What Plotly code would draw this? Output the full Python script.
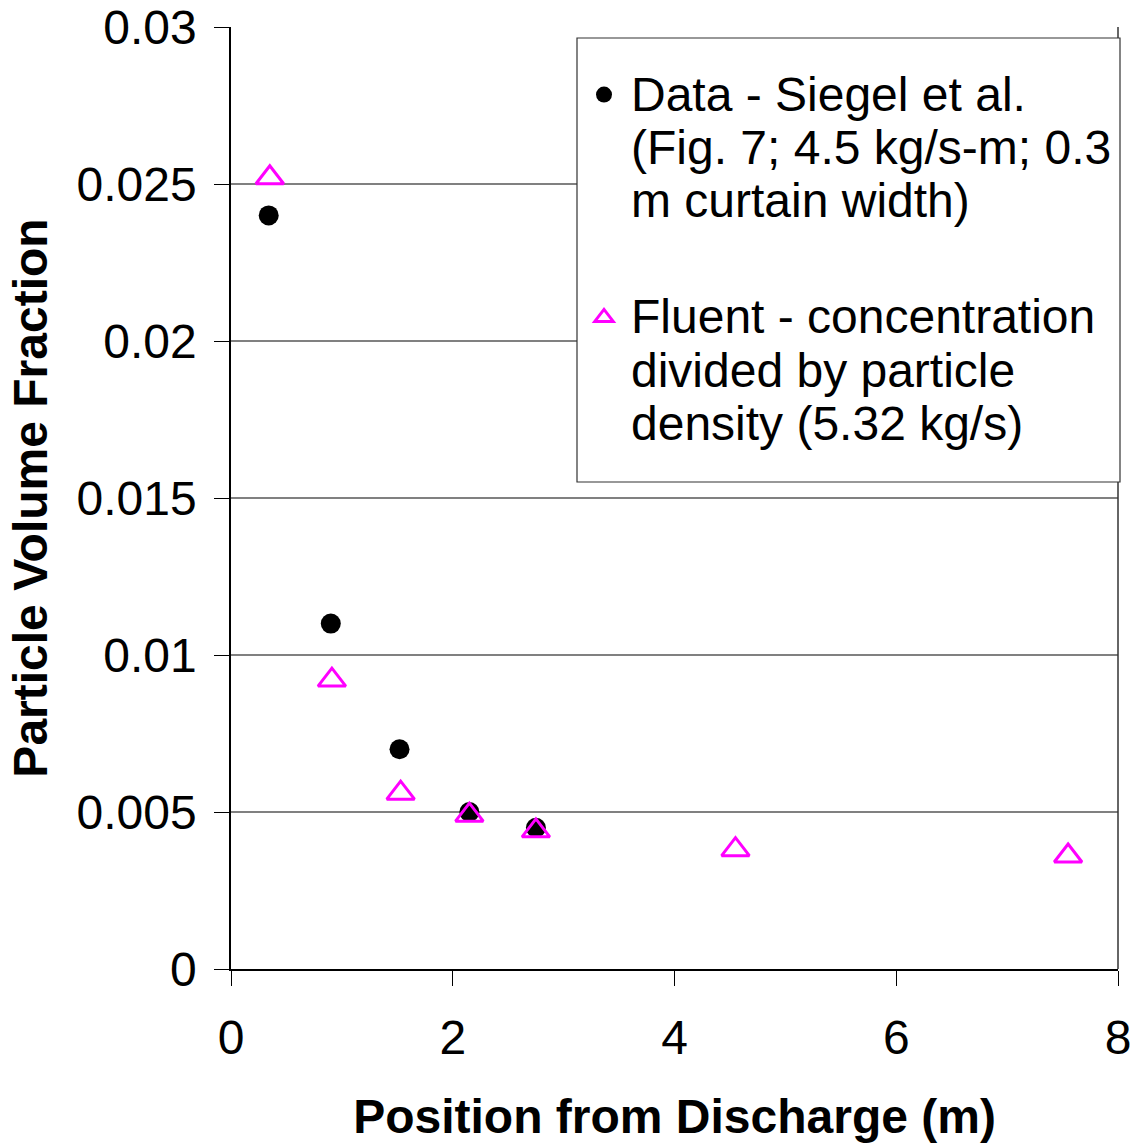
import plotly.graph_objects as go

# Data - Siegel et al. (black circles)
data_x = [0.34, 0.90, 1.52, 2.15, 2.75]
data_y = [0.0240, 0.0110, 0.0070, 0.0050, 0.0045]

# Fluent predictions (magenta open triangles)
fluent_x = [0.35, 0.91, 1.53, 2.15, 2.75, 4.55, 7.55]
fluent_y = [0.0252, 0.0092, 0.0056, 0.0049, 0.0044, 0.0038, 0.0036]

x_ticks = [0, 2, 4, 6, 8]
y_ticks = [0, 0.005, 0.01, 0.015, 0.02, 0.025, 0.03]
y_tick_text = ["0", "0.005", "0.01", "0.015", "0.02", "0.025", "0.03"]

data_name_lines = ["Data - Siegel et al.", "(Fig. 7; 4.5 kg/s-m; 0.3", "m curtain width)"]
fluent_name_lines = ["Fluent - concentration", "divided by particle", "density (5.32 kg/s)"]

FONT = "Liberation Sans, Arial, sans-serif"

# plot-area geometry in pixels (layout only)
W, H = 1130, 1143
ML, MR, MT, MB = 231, 12, 27, 174
PW, PH = W - ML - MR, H - MT - MB


def px_x(p):
    return (p - ML) / PW


def px_y(p):
    return (H - MB - p) / PH


def legend_label(lines):
    return "<br>".join(f"<span style='font-size:48px'>{t}</span>" for t in lines)


fig = go.Figure()
fig.add_trace(go.Scatter(
    x=data_x, y=data_y, mode="markers",
    name=legend_label(data_name_lines),
    marker=dict(symbol="circle", size=20, color="black"),
    legendgroup="a",
))
fig.add_trace(go.Scatter(
    x=fluent_x, y=fluent_y, mode="markers",
    name=legend_label(fluent_name_lines),
    marker=dict(symbol="triangle-up-open", size=24, color="#FF00FF",
                line=dict(width=3, color="#FF00FF")),
    legendgroup="b",
))

fig.update_layout(
    width=W, height=H,
    margin=dict(l=ML, r=MR, t=MT, b=MB),
    paper_bgcolor="white", plot_bgcolor="white",
    font=dict(family=FONT, size=48, color="black"),
    legend=dict(
        x=px_x(577), y=px_y(38),
        xanchor="left", yanchor="top",
        bgcolor="rgba(0,0,0,0)", borderwidth=0,
        font=dict(family=FONT, size=41, color="black"),
        title=dict(text="&nbsp;", font=dict(size=18)),
        tracegroupgap=60, itemwidth=44, valign="top",
    ),
    xaxis=dict(
        range=[0, 8], tickmode="array", tickvals=x_ticks,
        showgrid=False, zeroline=False, automargin=False,
        showline=True, linecolor="black", linewidth=1.5,
        ticks="outside", ticklen=15, tickcolor="black", tickwidth=1,
        ticklabelstandoff=11, ticklabeloverflow="allow",
        tickfont=dict(family=FONT, size=48),
        title=dict(text="<b>Position from Discharge (m)</b>",
                   font=dict(family=FONT, size=48), standoff=38),
    ),
    yaxis=dict(
        range=[0, 0.03], tickmode="array", tickvals=y_ticks, ticktext=y_tick_text,
        showgrid=True, gridcolor="#808080", gridwidth=1.5,
        zeroline=False, automargin=False,
        showline=True, linecolor="black", linewidth=1.5,
        ticks="outside", ticklen=15, tickcolor="black", tickwidth=1,
        ticklabelstandoff=8, ticklabeloverflow="allow",
        tickfont=dict(family=FONT, size=48),
        title=dict(text="<b>Particle Volume Fraction</b>",
                   font=dict(family=FONT, size=48), standoff=14),
    ),
    shapes=[
        # right border of plot area
        dict(type="line", xref="paper", yref="paper", x0=1, x1=1, y0=0, y1=1,
             line=dict(color="#333333", width=1.5)),
        # legend frame
        dict(type="rect", xref="paper", yref="paper", layer="above",
             x0=px_x(577), x1=px_x(1120), y0=px_y(482), y1=px_y(38),
             fillcolor="white", line=dict(color="#333333", width=1.2)),
    ],
)

fig.write_html(
    "out.html",
    config={"displayModeBar": False},
    post_script="document.body.style.margin='0';document.body.style.overflow='hidden';",
)
